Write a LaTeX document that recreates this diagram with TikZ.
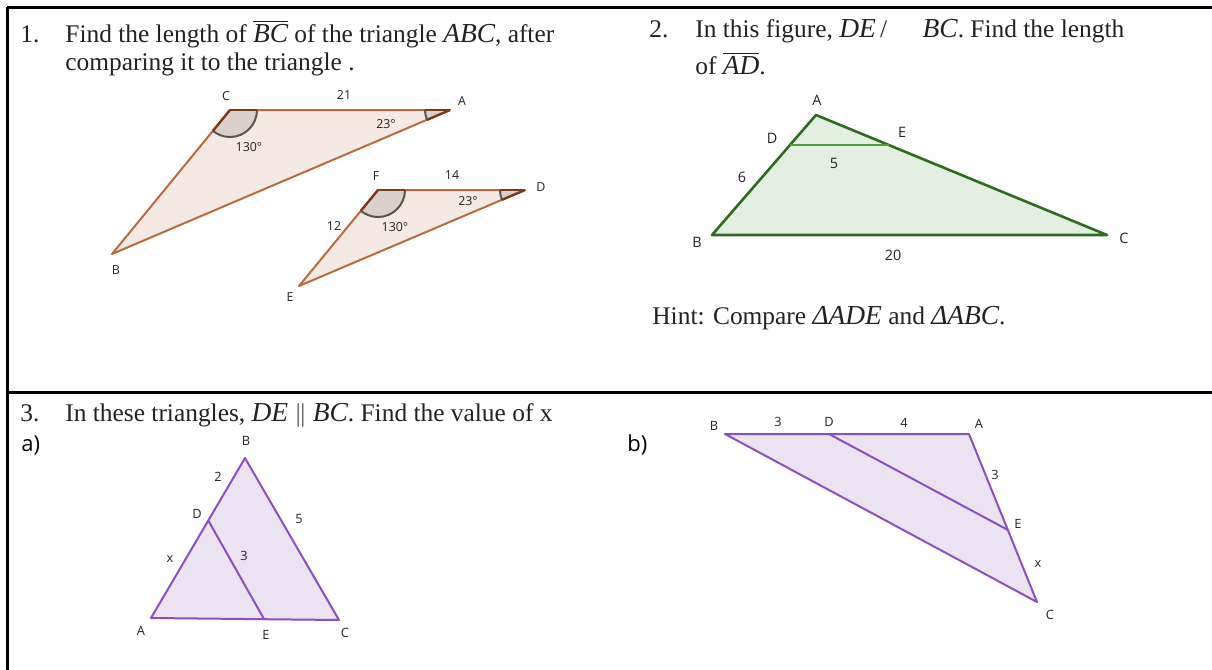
\documentclass[tikz,border=0pt]{standalone}
\usepackage{fontspec}
\setmainfont{Liberation Serif}
\newfontfamily\lblfont{Open Sans}
\newfontfamily\mfont[Scale=1.08]{Liberation Serif}
\newcommand{\mi}[1]{{\mfont\itshape #1}}
\definecolor{brownline}{HTML}{B86A40}
\definecolor{brownfill}{HTML}{F4E9E3}
\definecolor{darkbrown}{HTML}{7A3A1A}
\definecolor{anglefill}{HTML}{D9CFCB}
\definecolor{anglestroke}{HTML}{555555}
\definecolor{greenline}{HTML}{2E6B1E}
\definecolor{greenfill}{HTML}{E3EFE1}
\definecolor{greenmid}{HTML}{4E9C3E}
\definecolor{purpleline}{HTML}{8B4FBF}
\definecolor{purplefill}{HTML}{ECE3F2}
\definecolor{txt}{HTML}{222222}
\tikzset{
  x=0.5pt, y=-0.5pt,
  rule/.style={line width=1.5pt, black},
  qtext/.style={anchor=base west, inner sep=0pt, font=\fontsize{12.7}{15}\selectfont, text=txt},
  lblA/.style={font=\lblfont\fontsize{6.2}{7}\selectfont, inner sep=0pt, text=txt},
  lblB/.style={font=\lblfont\fontsize{7.2}{8}\selectfont, inner sep=0pt, text=txt},
  lblC/.style={font=\lblfont\fontsize{6.4}{7}\selectfont, inner sep=0pt, text=txt},
  partlbl/.style={font=\lblfont\fontsize{11}{12}\selectfont, inner sep=0pt, anchor=base west, text=black},
  browntri/.style={fill=brownfill, draw=brownline, line width=1pt, line join=round},
  greentri/.style={fill=greenfill, draw=greenline, line width=1.3pt, line join=round},
  purpletri/.style={fill=purplefill, draw=purpleline, line width=1pt, line join=round},
  angsector/.style={fill=anglefill},
  angarc/.style={draw=anglestroke, line width=1pt},
  angside/.style={draw=darkbrown, line width=1.2pt},
}
\begin{document}
\begin{tikzpicture}
\useasboundingbox (0,0) rectangle (1212,670);
% table rules
\coordinate (tl) at (7,7);
\coordinate (tr) at (1212,7);
\coordinate (bl) at (7,670);
\coordinate (ml) at (7,392);
\coordinate (mr) at (1212,392);
\draw[rule] (tl) -- (tr);
\draw[rule] (tl) -- (bl);
\draw[rule] (ml) -- (mr);

% ---------- Problem 1 text ----------
\node[qtext] (n1) at (20,42) {1.};
\node[qtext] (t1a) at (65,42) {Find the length of $\overline{\hbox{\mi{BC}}}$ of the triangle \mi{ABC}, after};
\node[qtext] (t1b) at (65,70) {comparing it to the triangle .};

% ---------- Problem 1 triangles ----------
\coordinate (C1) at (230,110);
\coordinate (A1) at (450,110);
\coordinate (B1) at (112,254);
\draw[browntri] (C1) -- (A1) -- (B1) -- cycle;
% angle at C
\fill[angsector] (C1) -- ++(0:27) arc[start angle=0, end angle=129.3, radius=27] -- cycle;
\draw[angarc] (C1) ++(0:27) arc[start angle=0, end angle=129.3, radius=27];
\draw[angside] (C1) -- ++(0:27);
\draw[angside] (C1) -- ++(129.3:27);
% angle at A
\fill[angsector] (A1) -- ++(180:25) arc[start angle=180, end angle=156.9, radius=25] -- cycle;
\draw[angarc] (A1) ++(180:25) arc[start angle=180, end angle=156.9, radius=25];
\draw[angside] (A1) -- ++(180:25);
\draw[angside] (A1) -- ++(156.9:25);
\node[lblA] (lC1) at (226,96) {C};
\node[lblA] (l21) at (344,95) {21};
\node[lblA] (lA1) at (462,101) {A};
\node[lblA] (l23a) at (386,124) {23°};
\node[lblA] (l130a) at (249,147) {130°};
\node[lblA] (lB1) at (116,270) {B};

\coordinate (F1) at (378,190);
\coordinate (D1) at (525,190);
\coordinate (E1) at (299,286);
\draw[browntri] (F1) -- (D1) -- (E1) -- cycle;
\fill[angsector] (F1) -- ++(0:27) arc[start angle=0, end angle=129.5, radius=27] -- cycle;
\draw[angarc] (F1) ++(0:27) arc[start angle=0, end angle=129.5, radius=27];
\draw[angside] (F1) -- ++(0:27);
\draw[angside] (F1) -- ++(129.5:27);
\fill[angsector] (D1) -- ++(180:25) arc[start angle=180, end angle=157, radius=25] -- cycle;
\draw[angarc] (D1) ++(180:25) arc[start angle=180, end angle=157, radius=25];
\draw[angside] (D1) -- ++(180:25);
\draw[angside] (D1) -- ++(157:25);
\node[lblA] (lF1) at (376,176) {F};
\node[lblA] (l14) at (452,175) {14};
\node[lblA] (lD1) at (541,187) {D};
\node[lblA] (l23b) at (468,201) {23°};
\node[lblA] (l12) at (334,226) {12};
\node[lblA] (l130b) at (395,227) {130°};
\node[lblA] (lE1) at (290,297) {E};

% ---------- Problem 2 ----------
\node[qtext] (n2) at (649,37) {2.};
\node[qtext] (t2a) at (695,37) {In this figure, \mi{DE}\,/\hspace{1.4em}\mi{BC}. Find the length};
\node[qtext] (t2b) at (695,74) {of $\overline{\hbox{\mi{AD}}}$.};

\coordinate (A2) at (816,115);
\coordinate (B2) at (712,235);
\coordinate (C2) at (1107,235);
\coordinate (D2) at (790,145);
\coordinate (E2) at (889,145);
\draw[greentri] (A2) -- (B2) -- (C2) -- cycle;
\draw[draw=greenmid, line width=1.2pt] (D2) -- (E2);
\node[lblB] (lA2) at (817,100) {A};
\node[lblB] (lD2) at (772,138) {D};
\node[lblB] (lE2) at (902,132) {E};
\node[lblB] (l5) at (834,163) {5};
\node[lblB] (l6) at (742,177) {6};
\node[lblB] (lB2) at (697,242) {B};
\node[lblB] (l20) at (893,255) {20};
\node[lblB] (lC2) at (1124,238) {C};

\node[qtext] (hint) at (652,324) {Hint: Compare \mi{ΔADE} and \mi{ΔABC}.};

% ---------- Problem 3 ----------
\node[qtext] (n3) at (20,421) {3.};
\node[qtext] (t3) at (65,421) {In these triangles, \mi{DE} $\|$ \mi{BC}. Find the value of x};
\node[partlbl] (pa) at (21,451) {a)};
\node[partlbl] (pb) at (627,451) {b)};

% 3a
\coordinate (B3) at (245,458);
\coordinate (A3) at (151,618);
\coordinate (C3) at (339,620);
\coordinate (D3) at (208,520);
\coordinate (E3) at (264,619);
\draw[purpletri] (B3) -- (A3) -- (C3) -- cycle;
\draw[draw=purpleline, line width=1pt] (D3) -- (E3);
\node[lblC] (lB3) at (246,441) {B};
\node[lblC] (l2) at (218,477) {2};
\node[lblC] (l5a) at (299,519) {5};
\node[lblC] (lD3) at (197,514) {D};
\node[lblC] (lx3) at (170,559) {x};
\node[lblC] (l3a) at (244,556) {3};
\node[lblC] (lA3) at (141,631) {A};
\node[lblC] (lE3) at (266,635) {E};
\node[lblC] (lC3) at (345,633) {C};

% 3b
\coordinate (B4) at (725,434);
\coordinate (A4) at (969,434);
\coordinate (C4) at (1037,602);
\coordinate (D4) at (829,434);
\coordinate (E4) at (1008,530);
\draw[purpletri] (B4) -- (A4) -- (C4) -- cycle;
\draw[draw=purpleline, line width=1pt] (D4) -- (E4);
\node[lblC] (lB4) at (714,426) {B};
\node[lblC] (l3b) at (778,422) {3};
\node[lblC] (lD4) at (829,422) {D};
\node[lblC] (l4) at (904,423) {4};
\node[lblC] (lA4) at (979,424) {A};
\node[lblC] (l3c) at (995,475) {3};
\node[lblC] (lE4) at (1018,524) {E};
\node[lblC] (lx4) at (1038,564) {x};
\node[lblC] (lC4) at (1050,615) {C};
\end{tikzpicture}
\end{document}
